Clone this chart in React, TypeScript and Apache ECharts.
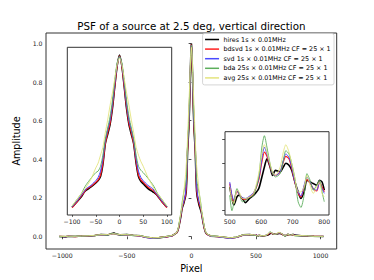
import React, { useEffect, useRef } from 'react';
import * as echarts from 'echarts';

// Pixel positions where values were read (outer-left, core, mid, side-lobe, outer-right)
const PIXELS = [
  -1024, -975, -950, -900, -850, -800, -750, -700, -650, -620, -600, -580, -550, -500, -450, -400, -350, -300, -250, -200, -150, -120, -110,
  -100, -90, -80, -75, -70, -60, -50, -45, -40, -35, -30, -25, -20, -15, -10, -5, 0, 5, 10, 15, 20, 25, 30, 35, 40, 45, 50, 60, 70, 75, 80, 90, 100,
  110, 120, 150, 200, 250, 300, 350, 400, 450, 480,
  500, 507, 513, 523, 530, 540, 550, 563, 576, 592, 602, 610, 618, 628, 636, 645, 660, 670, 678, 688, 697, 707, 717, 726, 736, 745, 755, 765, 776, 785, 793, 800,
  850, 900, 950, 1023,
];

const HIRES = [
  0.000, -0.002, 0.001, 0.000, 0.003, 0.002, 0.005, 0.010, 0.008, 0.014, 0.018, 0.012, 0.008, 0.010, 0.006, 0.004, -0.004, -0.008, -0.006, -0.002, 0.004, 0.016, 0.022,
  0.042, 0.075, 0.110, 0.135, 0.150, 0.170, 0.195, 0.210, 0.235, 0.310, 0.440, 0.500, 0.560, 0.660, 0.800, 0.930, 1.000, 0.930, 0.800, 0.660, 0.560, 0.500, 0.440, 0.320, 0.235, 0.205, 0.190, 0.160, 0.140, 0.130, 0.115, 0.075, 0.042,
  0.020, 0.012, 0.002, 0.000, -0.004, -0.008, -0.004, 0.008, 0.010, 0.008,
  0.0080, 0.0041, 0.0019, 0.0046, 0.0052, 0.0041, 0.0027, 0.0041, 0.0052, 0.0074, 0.0113, 0.0146, 0.0174, 0.0146, 0.0118, 0.0135, 0.0130, 0.0146, 0.0159, 0.0152, 0.0135, 0.0096, 0.0063, 0.0041, 0.0063, 0.0102, 0.0096, 0.0091, 0.0085, 0.0102, 0.0096, 0.0069,
  0.004, 0.002, 0.001, 0.000,
];

const BDSVD = [
  0.001, -0.001, 0.002, -0.001, 0.002, 0.003, 0.004, 0.009, 0.009, 0.012, 0.015, 0.011, 0.009, 0.009, 0.005, 0.003, -0.005, -0.009, -0.006, -0.003, 0.003, 0.015, 0.022,
  0.040, 0.075, 0.115, 0.135, 0.155, 0.175, 0.200, 0.215, 0.245, 0.320, 0.440, 0.510, 0.570, 0.670, 0.800, 0.930, 0.995, 0.930, 0.800, 0.670, 0.570, 0.510, 0.440, 0.330, 0.245, 0.215, 0.200, 0.170, 0.150, 0.135, 0.115, 0.075, 0.040,
  0.021, 0.011, 0.001, -0.001, -0.005, -0.009, -0.005, 0.007, 0.009, 0.008,
  0.0091, 0.0049, 0.0033, 0.0066, 0.0055, 0.0041, 0.0038, 0.0046, 0.0058, 0.0102, 0.0163, 0.0196, 0.0182, 0.0148, 0.0124, 0.0118, 0.0130, 0.0163, 0.0182, 0.0174, 0.0141, 0.0093, 0.0060, 0.0046, 0.0080, 0.0104, 0.0093, 0.0074, 0.0066, 0.0096, 0.0080, 0.0063,
  0.004, 0.003, 0.000, 0.001,
];

const SVD = [
  0.001, -0.002, 0.002, 0.000, 0.002, 0.003, 0.004, 0.009, 0.008, 0.012, 0.015, 0.011, 0.008, 0.009, 0.005, 0.003, -0.006, -0.010, -0.007, -0.003, 0.003, 0.015, 0.023,
  0.045, 0.080, 0.120, 0.140, 0.160, 0.180, 0.210, 0.230, 0.270, 0.350, 0.460, 0.530, 0.590, 0.690, 0.820, 0.940, 0.990, 0.940, 0.820, 0.690, 0.590, 0.530, 0.460, 0.350, 0.270, 0.230, 0.210, 0.180, 0.160, 0.140, 0.120, 0.080, 0.045,
  0.022, 0.011, 0.001, -0.001, -0.006, -0.010, -0.005, 0.007, 0.009, 0.008,
  0.0096, 0.0052, 0.0035, 0.0069, 0.0055, 0.0044, 0.0041, 0.0049, 0.0060, 0.0107, 0.0174, 0.0213, 0.0190, 0.0152, 0.0124, 0.0118, 0.0130, 0.0168, 0.0190, 0.0179, 0.0146, 0.0096, 0.0063, 0.0049, 0.0085, 0.0113, 0.0096, 0.0074, 0.0069, 0.0096, 0.0074, 0.0058,
  0.004, 0.003, 0.000, 0.001,
];

const BDA = [
  -0.001, 0.001, 0.000, 0.002, 0.001, 0.004, 0.003, 0.011, 0.006, 0.016, 0.013, 0.014, 0.006, 0.011, 0.003, 0.006, -0.003, -0.007, -0.008, -0.001, 0.005, 0.014, 0.025,
  0.048, 0.090, 0.130, 0.160, 0.185, 0.225, 0.260, 0.270, 0.300, 0.370, 0.470, 0.540, 0.610, 0.710, 0.840, 0.950, 0.990, 0.950, 0.840, 0.710, 0.610, 0.540, 0.470, 0.370, 0.300, 0.275, 0.260, 0.225, 0.185, 0.160, 0.130, 0.090, 0.048,
  0.024, 0.013, 0.003, 0.001, -0.003, -0.007, -0.003, 0.009, 0.008, 0.006,
  0.0052, 0.0000, 0.0024, 0.0074, 0.0058, 0.0030, 0.0035, 0.0044, 0.0052, 0.0113, 0.0213, 0.0251, 0.0213, 0.0157, 0.0124, 0.0113, 0.0124, 0.0168, 0.0201, 0.0190, 0.0157, 0.0107, 0.0030, 0.0011, 0.0052, 0.0124, 0.0102, 0.0069, 0.0085, 0.0102, 0.0063, 0.0030,
  0.003, 0.004, -0.001, 0.000,
];

const AVG = [
  0.002, 0.000, 0.002, 0.001, 0.003, 0.003, 0.006, 0.009, 0.010, 0.012, 0.014, 0.012, 0.010, 0.009, 0.007, 0.004, -0.003, -0.007, -0.005, -0.001, 0.005, 0.016, 0.026,
  0.050, 0.090, 0.130, 0.150, 0.170, 0.220, 0.290, 0.320, 0.370, 0.420, 0.510, 0.590, 0.680, 0.760, 0.850, 0.940, 0.980, 0.940, 0.850, 0.760, 0.680, 0.590, 0.510, 0.420, 0.370, 0.330, 0.300, 0.230, 0.175, 0.150, 0.130, 0.090, 0.050,
  0.025, 0.014, 0.003, 0.001, -0.003, -0.007, -0.003, 0.008, 0.010, 0.009,
  0.0080, 0.0035, 0.0024, 0.0069, 0.0063, 0.0041, 0.0041, 0.0046, 0.0058, 0.0124, 0.0190, 0.0221, 0.0196, 0.0157, 0.0130, 0.0118, 0.0146, 0.0196, 0.0221, 0.0196, 0.0157, 0.0107, 0.0063, 0.0063, 0.0080, 0.0118, 0.0085, 0.0058, 0.0080, 0.0096, 0.0058, 0.0046,
  0.005, 0.003, 0.001, 0.001,
];

const SERIES_NAMES = [
  'hires 1s × 0.01MHz',
  'bdsvd 1s × 0.01MHz CF = 25 × 1',
  'svd 1s × 0.01MHz CF = 25 × 1',
  'bda 25s × 0.01MHz CF = 25 × 1',
  'avg 25s × 0.01MHz CF = 25 × 1',
];
const SERIES_VALUES = [HIRES, BDSVD, SVD, BDA, AVG];
const COLORS = ['#000000', '#ff1f1f', '#4a4aff', '#5cae5c', '#e4e47e'];
const WIDTHS = [1.6, 1.2, 1.0, 0.9, 0.9];

const TITLE = 'PSF of a source at 2.5 deg, vertical direction';
const X_NAME = 'Pixel';
const Y_NAME = 'Amplitude';

const MAIN_X_TICKS = [-1000, -500, 0, 500, 1000];
const MAIN_Y_TICKS = [0, 0.2, 0.4, 0.6, 0.8, 1.0];
const CORE_X_TICKS = [-100, -50, 0, 50, 100];
const CORE_Y_TICKS = [0, 0.2, 0.4, 0.6, 0.8, 1.0];
const LOBE_X_TICKS = [500, 600, 700, 800];
const LOBE_Y_TICKS = [0, 0.008, 0.016, 0.024];

const FONT = 'DejaVu Sans';

const fmtInt = (v: number) => (v < 0 ? '\u2212' + Math.abs(v) : String(v));
const fmt1 = (v: number) => (v < 0 ? '\u2212' + Math.abs(v).toFixed(1) : v.toFixed(1));

function makeX(grid: number, min: number, max: number, ticks: number[], extra: any = {}) {
  return {
    type: 'value',
    gridIndex: grid,
    min,
    max,
    axisLine: { show: false },
    splitLine: { show: false },
    axisTick: { show: true, customValues: ticks, length: 2.8, lineStyle: { color: '#222', width: 0.8 } },
    axisLabel: { show: true, customValues: ticks, formatter: fmtInt, fontSize: 6.2, color: '#222', fontFamily: FONT, margin: 3.5 },
    ...extra,
  };
}

function makeY(grid: number, min: number, max: number, ticks: number[], showLabels: boolean, extra: any = {}) {
  return {
    type: 'value',
    gridIndex: grid,
    min,
    max,
    axisLine: { show: false },
    splitLine: { show: false },
    axisTick: { show: true, customValues: ticks, length: 2.8, lineStyle: { color: '#222', width: 0.8 } },
    axisLabel: { show: showLabels, customValues: ticks, formatter: fmt1, fontSize: 6.2, color: '#222', fontFamily: FONT, margin: 3.5 },
    ...extra,
  };
}

export default function App() {
  const ref = useRef<HTMLDivElement>(null);
  useEffect(() => {
    if (!ref.current) return;
    const chart = echarts.init(ref.current, undefined, { renderer: 'svg' });

    const ranges: [number, number][] = [
      [-Infinity, Infinity],
      [-100, 100],
      [500, 800],
    ];
    const series: any[] = [];
    ranges.forEach(([lo, hi], g) => {
      SERIES_VALUES.forEach((vals, i) => {
        const data: number[][] = [];
        PIXELS.forEach((px, k) => {
          if (px >= lo && px <= hi) data.push([px, vals[k]]);
        });
        series.push({
          type: 'line',
          name: SERIES_NAMES[i],
          xAxisIndex: g,
          yAxisIndex: g,
          data,
          showSymbol: false,
          symbol: 'none',
          smooth: g === 0 ? false : 0.25,
          clip: true,
          lineStyle: { color: COLORS[i], width: WIDTHS[i] },
          itemStyle: { color: COLORS[i] },
          z: 2 + g * 2,
        });
      });
    });

    const gridCommon = { show: true, borderColor: '#333', borderWidth: 1, containLabel: false };

    chart.setOption({
      animation: false,
      backgroundColor: '#fff',
      graphic: [
        {
          type: 'text',
          x: 191.4,
          y: 25.7,
          style: { text: TITLE, align: 'center', verticalAlign: 'middle', fontSize: 10.3, fontFamily: FONT, fill: '#000' },
        },
      ],
      grid: [
        { ...gridCommon, left: 46, top: 33, width: 290.7, height: 216, backgroundColor: 'transparent' },
        { ...gridCommon, left: 67.3, top: 47.3, width: 104.4, height: 167.7, backgroundColor: '#fff', z: 3 },
        { ...gridCommon, left: 225, top: 131.7, width: 104, height: 83.3, backgroundColor: '#fff', z: 3 },
      ],
      xAxis: [
        makeX(0, -1126, 1125, MAIN_X_TICKS, {
          name: X_NAME,
          nameLocation: 'middle',
          nameGap: 10,
          nameTextStyle: { fontSize: 9.6, fontFamily: FONT, color: '#000' },
        }),
        makeX(1, -110, 110, CORE_X_TICKS),
        makeX(2, 485, 815, LOBE_X_TICKS),
      ],
      yAxis: [
        makeY(0, -0.065, 1.055, MAIN_Y_TICKS, true, {
          name: Y_NAME,
          nameLocation: 'middle',
          nameGap: 14,
          nameRotate: 90,
          nameTextStyle: { fontSize: 9.6, fontFamily: FONT, color: '#000' },
        }),
        makeY(1, -0.0063, 1.048, CORE_Y_TICKS, false),
        makeY(2, -0.00144, 0.02644, LOBE_Y_TICKS, false),
      ],
      legend: {
        show: true,
        orient: 'vertical',
        right: 40,
        top: 33.5,
        data: SERIES_NAMES,
        icon: 'rect',
        itemWidth: 14,
        itemHeight: 1.5,
        itemGap: 2.6,
        padding: [2.5, 3.3, 3.5, 2.5],
        backgroundColor: 'rgba(255,255,255,0.85)',
        borderColor: '#cccccc',
        borderWidth: 0.8,
        borderRadius: 2,
        selectedMode: false,
        textStyle: { fontSize: 6.4, fontFamily: FONT, color: '#000', lineHeight: 7, padding: [0, 0, 0, -0.6] },
        z: 10,
      },
      series,
    });
    return () => chart.dispose();
  }, []);
  return <div ref={ref} style={{ position: 'absolute', left: 0, top: 0, width: 374, height: 280 }} />;
}
